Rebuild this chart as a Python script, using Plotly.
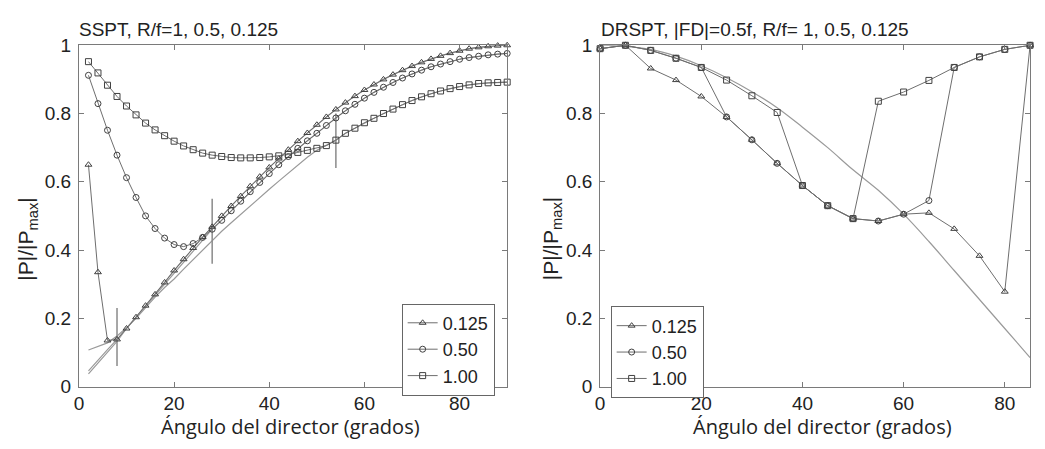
import plotly.graph_objects as go

# ---------------- Left panel data (SSPT) ----------------
ang_left = list(range(2, 91, 2))

sspt_0125 = [0.650, 0.335, 0.135, 0.138, 0.170, 0.203, 0.237, 0.270, 0.305, 0.340,
             0.373, 0.406, 0.438, 0.468, 0.500, 0.529, 0.558, 0.587, 0.615, 0.642,
             0.668, 0.694, 0.719, 0.743, 0.767, 0.790, 0.812, 0.832, 0.851, 0.869,
             0.885, 0.900, 0.914, 0.927, 0.939, 0.950, 0.960, 0.969, 0.977, 0.984,
             0.990, 0.994, 0.997, 0.999, 1.000]

sspt_050 = [0.912, 0.829, 0.751, 0.678, 0.612, 0.554, 0.500, 0.463, 0.435, 0.416,
            0.410, 0.419, 0.437, 0.461, 0.487, 0.515, 0.543, 0.571, 0.598, 0.624,
            0.650, 0.674, 0.698, 0.720, 0.742, 0.765, 0.787, 0.808, 0.827, 0.845,
            0.862, 0.877, 0.891, 0.904, 0.916, 0.927, 0.937, 0.945, 0.952, 0.959,
            0.964, 0.968, 0.972, 0.974, 0.976]

sspt_100 = [0.952, 0.919, 0.883, 0.850, 0.822, 0.796, 0.772, 0.752, 0.735, 0.719,
            0.705, 0.694, 0.684, 0.678, 0.674, 0.671, 0.670, 0.670, 0.671, 0.673,
            0.676, 0.680, 0.686, 0.692, 0.698, 0.706, 0.722, 0.742, 0.757, 0.773,
            0.786, 0.800, 0.813, 0.826, 0.838, 0.849, 0.858, 0.866, 0.873, 0.879,
            0.884, 0.888, 0.890, 0.891, 0.892]

# theoretical curves (no markers)
theory_0125 = [0.037, 0.069, 0.100, 0.132] + sspt_0125[4:]
theory_050 = [0.046, 0.078, 0.108, 0.138, 0.170, 0.202, 0.234, 0.266, 0.298, 0.331,
              0.363, 0.396, 0.429] + sspt_050[13:]
theory_100 = [0.107, 0.117, 0.128, 0.148, 0.172, 0.200, 0.232, 0.262, 0.290, 0.315,
              0.344, 0.372, 0.400, 0.427, 0.455, 0.480, 0.505, 0.530, 0.555, 0.578,
              0.602, 0.626, 0.650, 0.672, 0.692, 0.708] + sspt_100[26:]

# validity-limit bars
bar_x = [8, 28, 54]
bar_lo = [0.06, 0.36, 0.64]
bar_hi = [0.23, 0.55, 0.80]

# ---------------- Right panel data (DRSPT) ----------------
ang_right = list(range(0, 86, 5))

drspt_0125 = [0.990, 1.000, 0.932, 0.898, 0.850, 0.790, 0.723, 0.654, 0.589, 0.530,
              0.492, 0.485, 0.505, 0.509, 0.462, 0.383, 0.278, 1.000]
drspt_050 = [0.990, 1.000, 0.985, 0.962, 0.935, 0.790, 0.723, 0.654, 0.589, 0.530,
             0.492, 0.485, 0.505, 0.545, 0.935, 0.966, 0.988, 1.000]
drspt_100 = [0.990, 1.000, 0.985, 0.962, 0.935, 0.898, 0.852, 0.803, 0.589, 0.530,
             0.492, 0.836, 0.863, 0.897, 0.935, 0.966, 0.988, 1.000]
theory_right = [1.000, 0.997, 0.988, 0.968, 0.940, 0.905, 0.864, 0.817, 0.760, 0.700,
                0.635, 0.575, 0.505, 0.425, 0.340, 0.255, 0.170, 0.085]

legend_labels = ["0.125", "0.50", "1.00"]
symbols = ["triangle-up-open", "circle-open", "square-open"]

LINE = "#6e6e6e"
MARK = "#404040"
THEO = "#9a9a9a"
AXC = "#7a7a7a"

fig = go.Figure()

# left theory lines
for ys in (theory_0125, theory_050, theory_100):
    fig.add_trace(go.Scatter(x=ang_left, y=ys, mode="lines", showlegend=False,
                             line=dict(color=THEO, width=1.2), xaxis="x", yaxis="y",
                             hoverinfo="skip"))
# left bars
for bx, lo, hi in zip(bar_x, bar_lo, bar_hi):
    fig.add_trace(go.Scatter(x=[bx, bx], y=[lo, hi], mode="lines", showlegend=False,
                             line=dict(color="#8a8a8a", width=1.5), xaxis="x", yaxis="y"))
# left data series
for ys, lab, sym in zip((sspt_0125, sspt_050, sspt_100), legend_labels, symbols):
    fig.add_trace(go.Scatter(x=ang_left, y=ys, mode="lines+markers", name=lab,
                             line=dict(color=LINE, width=1),
                             marker=dict(symbol=sym, size=6, color=MARK,
                                         line=dict(color=MARK, width=1)),
                             cliponaxis=False, xaxis="x", yaxis="y", legend="legend"))

# right theory
fig.add_trace(go.Scatter(x=ang_right, y=theory_right, mode="lines", showlegend=False,
                         line=dict(color=THEO, width=1.2, shape="spline"),
                         xaxis="x2", yaxis="y2"))
for ys, lab, sym in zip((drspt_0125, drspt_050, drspt_100), legend_labels, symbols):
    fig.add_trace(go.Scatter(x=ang_right, y=ys, mode="lines+markers", name=lab,
                             line=dict(color=LINE, width=1),
                             marker=dict(symbol=sym, size=6, color=MARK,
                                         line=dict(color=MARK, width=1)),
                             cliponaxis=False, xaxis="x2", yaxis="y2", legend="legend2"))

tickfont = dict(family="Liberation Sans, Arial", size=19, color="#222")
yt = [0, 0.2, 0.4, 0.6, 0.8, 1]
ytt = ["0", "0.2", "0.4", "0.6", "0.8", "1"]
common = dict(showline=True, linecolor=AXC, linewidth=1, mirror="ticks", ticks="inside",
              ticklen=5, tickcolor=AXC, showgrid=False, zeroline=False, tickfont=tickfont)

Y0 = 1 - 395 / 449
Y1 = 1 - 37 / 449
legfont = dict(family="Liberation Sans, Arial", size=18, color="#222")
fig.update_layout(
    width=1045, height=449, margin=dict(l=0, r=0, t=0, b=0),
    plot_bgcolor="white", paper_bgcolor="white",
    xaxis=dict(domain=[74.3 / 1045, 504.6 / 1045], range=[0, 90],
               tickvals=[0, 20, 40, 60, 80], anchor="y", **common),
    yaxis=dict(domain=[Y0, Y1], range=[0, 1], tickvals=yt, ticktext=ytt, anchor="x",
               ticklabelstandoff=3, **common),
    xaxis2=dict(domain=[598 / 1045, 1030 / 1045], range=[0, 85],
                tickvals=[0, 20, 40, 60, 80], anchor="y2", **common),
    yaxis2=dict(domain=[Y0, Y1], range=[0, 1], tickvals=yt, ticktext=ytt, anchor="x2",
                ticklabelstandoff=3, **common),
    legend=dict(x=492 / 1045, y=1 - 308 / 449, xanchor="right", yanchor="top",
                bordercolor="#666", borderwidth=1, bgcolor="white", font=legfont,
                itemwidth=30, tracegroupgap=0),
    legend2=dict(x=702 / 1045, y=1 - 311 / 449, xanchor="right", yanchor="top",
                 bordercolor="#666", borderwidth=1, bgcolor="white", font=legfont,
                 itemwidth=30, tracegroupgap=0),
    showlegend=True,
)

titlefont = dict(family="Liberation Sans, Arial", size=19, color="#222")
xlabfont = dict(family="Open Sans, Noto Sans", size=20, color="#222")
ylabfont = dict(family="Liberation Sans, Arial", size=21, color="#222")
ann = [
    dict(text="SSPT, R/f=1, 0.5, 0.125", x=72 / 1045, y=1 - 20 / 449, xanchor="left",
         yanchor="middle", font=titlefont),
    dict(text="DRSPT, |FD|=0.5f, R/f= 1, 0.5, 0.125", x=597 / 1045, y=1 - 20 / 449,
         xanchor="left", yanchor="middle", font=titlefont),
    dict(text="Ángulo del director (grados)", x=287 / 1045, y=1 - 437 / 449,
         xanchor="center", yanchor="middle", font=xlabfont),
    dict(text="Ángulo del director (grados)", x=821 / 1045, y=1 - 437 / 449,
         xanchor="center", yanchor="middle", font=xlabfont),
    dict(text="|P|/|P<sub>max</sub>|", x=22 / 1045, y=1 - 240 / 449, textangle=-90,
         xanchor="center", yanchor="middle", font=ylabfont),
    dict(text="|P|/|P<sub>max</sub>|", x=549 / 1045, y=1 - 240 / 449, textangle=-90,
         xanchor="center", yanchor="middle", font=ylabfont),
]
for a in ann:
    a.update(xref="paper", yref="paper", showarrow=False)
fig.update_layout(annotations=ann)

fig.write_html("out.html")
